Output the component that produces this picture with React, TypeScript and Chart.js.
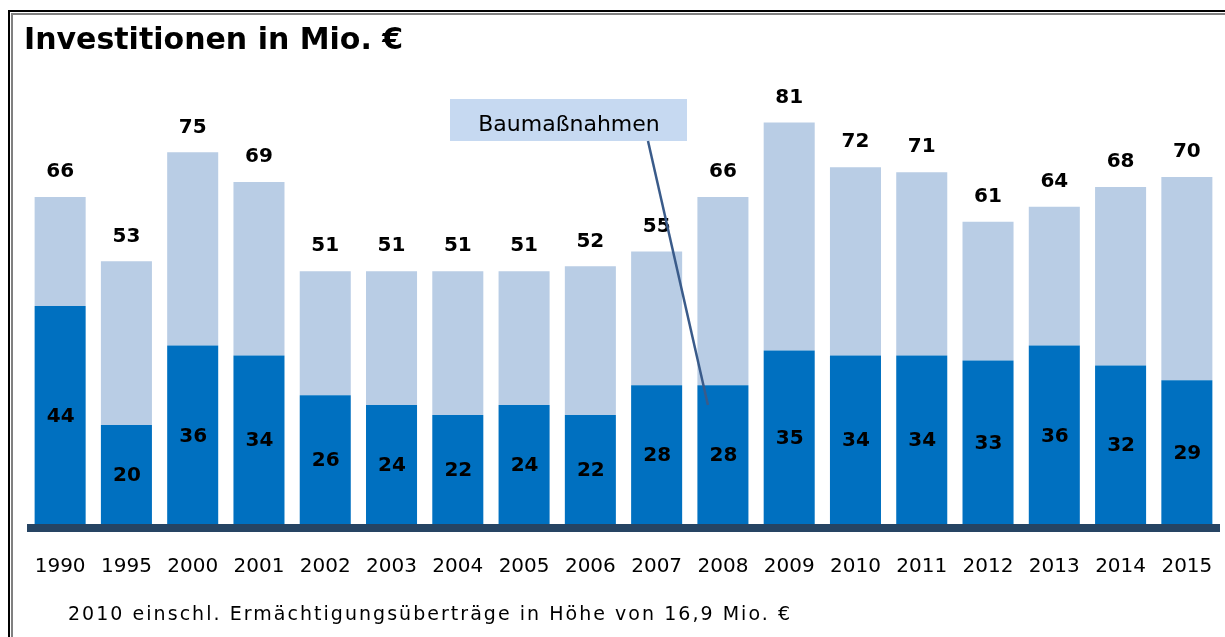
import React, { useEffect, useRef } from "react";
import { Chart, registerables } from "chart.js";

Chart.register(...registerables);

const categories = [
  "1990", "1995", "2000", "2001", "2002", "2003", "2004", "2005", "2006",
  "2007", "2008", "2009", "2010", "2011", "2012", "2013", "2014", "2015",
];
// Baumaßnahmen (dark part)
const baumassnahmen = [44, 20, 36, 34, 26, 24, 22, 24, 22, 28, 28, 35, 34, 34, 33, 36, 32, 29];
// remaining investments (light part)
const sonstige = [22, 33, 39, 35, 25, 27, 29, 27, 30, 27, 38, 46, 38, 37, 28, 28, 36, 41];
// total labels above bars
const gesamt = [66, 53, 75, 69, 51, 51, 51, 51, 52, 55, 66, 81, 72, 71, 61, 64, 68, 70];

const TITLE = "Investitionen in Mio. €";
const FOOTNOTE = "2010 einschl. Ermächtigungsüberträge in Höhe von 16,9 Mio. €";
const ANNOTATION = "Baumaßnahmen";
const ANNOTATION_TARGET_INDEX = 10;
const ANNOTATION_TARGET_VALUE = 24;

const FONT = '"DejaVu Sans", Verdana, sans-serif';

const overlayPlugin = {
  id: "overlay",
  afterDatasetsDraw(chart: any) {
    const { ctx, chartArea, scales } = chart;
    const x = scales.x;
    const y = scales.y;
    ctx.save();

    // thick axis line
    ctx.fillStyle = "#264463";
    ctx.fillRect(chartArea.left, chartArea.bottom, chartArea.right - chartArea.left, 8);

    // value labels
    ctx.fillStyle = "#000";
    ctx.font = `bold 20px ${FONT}`;
    ctx.textAlign = "center";
    ctx.textBaseline = "middle";
    categories.forEach((_, i) => {
      const cx = x.getPixelForValue(i);
      ctx.fillText(String(gesamt[i]), cx, y.getPixelForValue(gesamt[i]) - 25);
      const mid = (y.getPixelForValue(baumassnahmen[i]) + y.getPixelForValue(0)) / 2;
      ctx.fillText(String(baumassnahmen[i]), cx + 0.5, mid + 1.5);
    });

    // annotation box
    const bx = 450, by = 99, bw = 237, bh = 42;
    ctx.fillStyle = "#C6D9F1";
    ctx.fillRect(bx, by, bw, bh);
    ctx.fillStyle = "#000";
    ctx.font = `22px ${FONT}`;
    ctx.textAlign = "center";
    ctx.textBaseline = "alphabetic";
    ctx.fillText(ANNOTATION, bx + bw / 2 + 0.5, 131);

    // leader line
    ctx.strokeStyle = "#3A5B8A";
    ctx.lineWidth = 2.5;
    ctx.beginPath();
    ctx.moveTo(648, by + bh);
    ctx.lineTo(
      x.getPixelForValue(ANNOTATION_TARGET_INDEX) - 15,
      y.getPixelForValue(ANNOTATION_TARGET_VALUE)
    );
    ctx.stroke();

    // title
    ctx.textAlign = "left";
    ctx.textBaseline = "alphabetic";
    ctx.font = `bold 30px ${FONT}`;
    ctx.fillText(TITLE, 24, 49);

    // footnote
    ctx.font = `19px ${FONT}`;
    const target = 722;
    const w = ctx.measureText(FOOTNOTE).width;
    const ls = Math.max(0, (target - w) / (FOOTNOTE.length - 1));
    (ctx as any).letterSpacing = `${ls}px`;
    ctx.fillText(FOOTNOTE, 68, 620);
    (ctx as any).letterSpacing = "0px";

    ctx.restore();
  },
};

export default function App() {
  const canvasRef = useRef<HTMLCanvasElement | null>(null);

  useEffect(() => {
    const canvas = canvasRef.current;
    if (!canvas) return;
    const chart = new Chart(canvas, {
      type: "bar",
      data: {
        labels: categories,
        datasets: [
          {
            label: "Baumaßnahmen",
            data: baumassnahmen,
            backgroundColor: "#0070C0",
            borderWidth: 0,
            barPercentage: 0.77,
            categoryPercentage: 1,
          },
          {
            label: "Sonstige",
            data: sonstige,
            backgroundColor: "#B9CDE5",
            borderWidth: 0,
            barPercentage: 0.77,
            categoryPercentage: 1,
          },
        ],
      },
      options: {
        animation: false,
        responsive: false,
        maintainAspectRatio: false,
        devicePixelRatio: 1,
        layout: { padding: { left: 27, right: 5, top: 78, bottom: 33 } },
        plugins: {
          legend: { display: false },
          tooltip: { enabled: false },
          title: { display: false },
        },
        scales: {
          x: {
            stacked: true,
            grid: {
              display: true,
              drawOnChartArea: false,
              drawTicks: true,
              tickLength: 31,
              color: "rgba(0,0,0,0)",
            },
            border: { display: false },
            ticks: {
              color: "#000",
              font: { family: FONT, size: 20 },
              padding: 0,
              maxRotation: 0,
              autoSkip: false,
            },
            afterFit: (s: any) => {
              s.height = 80;
            },
          },
          y: {
            stacked: true,
            display: false,
            min: 0,
            max: 90,
          },
        },
      },
      plugins: [overlayPlugin],
    });
    return () => chart.destroy();
  }, []);

  return (
    <div
      style={{
        position: "fixed",
        left: 0,
        top: 0,
        width: 1225,
        height: 637,
        background: "#fff",
        overflow: "hidden",
      }}
    >
      <div style={{ position: "absolute", left: 8, top: 10, width: 1217, height: 2, background: "#000" }} />
      <div style={{ position: "absolute", left: 11, top: 13, width: 1214, height: 2, background: "#808080" }} />
      <div style={{ position: "absolute", left: 8, top: 10, width: 2, height: 627, background: "#000" }} />
      <div style={{ position: "absolute", left: 11, top: 13, width: 2, height: 624, background: "#808080" }} />
      <canvas
        ref={canvasRef}
        width={1225}
        height={637}
        style={{ position: "absolute", left: 0, top: 0, width: 1225, height: 637 }}
      />
    </div>
  );
}
